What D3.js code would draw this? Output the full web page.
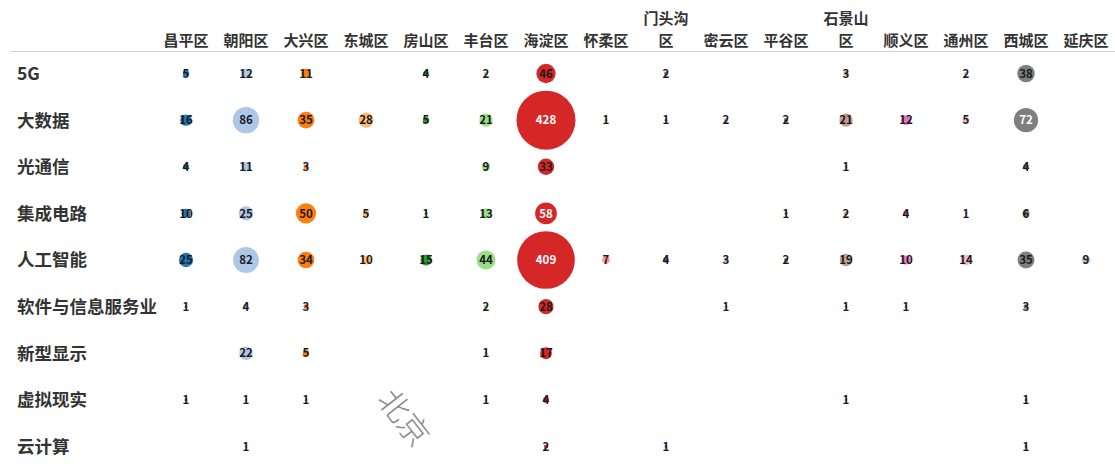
<!DOCTYPE html>
<html><head><meta charset="utf-8">
<script src="https://cdn.jsdelivr.net/npm/d3@7"></script>
<style>body{margin:0;background:#fff;}svg{display:block;}</style>
</head><body><svg id="c" width="1115" height="468"></svg>
<script>
const districts = ["昌平区","朝阳区","大兴区","东城区","房山区","丰台区","海淀区","怀柔区","门头沟区","密云区","平谷区","石景山区","顺义区","通州区","西城区","延庆区"];
const industries = ["5G","大数据","光通信","集成电路","人工智能","软件与信息服务业","新型显示","虚拟现实","云计算"];
// values per industry, in district order (null = none)
const v5G        = [5,12,11,null,4,2,46,null,2,null,null,3,null,2,38,null];
const vBigData   = [16,86,35,28,5,21,428,1,1,2,2,21,12,5,72,null];
const vOptical   = [4,11,3,null,null,9,33,null,null,null,null,1,null,null,4,null];
const vIC        = [10,25,50,5,1,13,58,null,null,null,1,2,4,1,6,null];
const vAI        = [25,82,34,10,15,44,409,7,4,3,2,19,10,14,35,9];
const vSoftware  = [1,4,3,null,null,2,28,null,null,1,null,1,1,null,3,null];
const vDisplay   = [null,22,5,null,null,1,17,null,null,null,null,null,null,null,null,null];
const vVR        = [1,1,1,null,null,1,4,null,null,null,null,1,null,null,1,null];
const vCloud     = [null,1,null,null,null,null,2,null,1,null,null,null,null,null,1,null];
const rows = [v5G,vBigData,vOptical,vIC,vAI,vSoftware,vDisplay,vVR,vCloud];

const svg = d3.select("#c");
const font = "'Noto Sans CJK SC','Noto Sans',sans-serif";
const x = d3.scalePoint().domain(districts).range([186,1086]);
const y = d3.scalePoint().domain(industries).range([73.5,446.5]);
const r = d3.scaleSqrt().domain([0,428]).range([0,29.5]);
const color = d3.scaleOrdinal().domain(districts).range(["#1f77b4","#aec7e8","#ff7f0e","#ffbb78","#2ca02c","#98df8a","#d62728","#ff9896","#9467bd","#c5b0d5","#8c564b","#c49c94","#e377c2","#f7b6d2","#7f7f7f","#c7c7c7"]);

// header
svg.append("line").attr("x1",10).attr("x2",1115).attr("y1",51.5).attr("y2",51.5).attr("stroke","#cfcfcf").attr("stroke-width",1);
const hdr = svg.append("g").selectAll("text").data(districts).join("text")
  .attr("x",d=>x(d)).attr("text-anchor","middle")
  .attr("font-family",font).attr("font-size",15).attr("font-weight","bold").attr("fill","#333");
hdr.each(function(d){
  const t=d3.select(this);
  const lines = d.length>3 ? [d.slice(0,3), d.slice(3)] : [d];
  const y0 = 45.5 - (lines.length-1)*22;
  lines.forEach((l,i)=>t.append("tspan").attr("x",x(d)).attr("y",y0+i*22).text(l));
});

// row labels
svg.append("g").selectAll("text").data(industries).join("text")
  .attr("x",17).attr("y",d=>y(d)).attr("dy","0.37em")
  .attr("font-family",font).attr("font-size",17.5).attr("font-weight","bold").attr("fill","#333")
  .text(d=>d);

// cells
const cells = [];
industries.forEach((ind,i)=>rows[i].forEach((val,j)=>{ if(val!=null) cells.push({ind,dist:districts[j],val}); }));
const g = svg.append("g");
g.selectAll("circle").data(cells).join("circle")
  .attr("cx",d=>x(d.dist)).attr("cy",d=>y(d.ind)).attr("r",d=>r(d.val))
  .attr("fill",d=>color(d.dist));
g.selectAll("text").data(cells).join("text")
  .attr("x",d=>x(d.dist)).attr("y",d=>y(d.ind)).attr("dy","0.36em").attr("text-anchor","middle")
  .attr("font-family",font).attr("font-size",11.5).attr("font-weight","bold")
  .attr("fill",d=>{const c=d3.hsl(color(d.dist)); return (d.val>=55 && c.l<0.6)?"#fff":"#1a1a1a";})
  .text(d=>d.val);

// watermark
svg.append("text").attr("transform","translate(376,400) rotate(52)")
  .attr("font-family",font).attr("font-size",31).attr("font-weight",300).attr("fill","#8a8a8a")
  .text("北京");
</script></body></html>
